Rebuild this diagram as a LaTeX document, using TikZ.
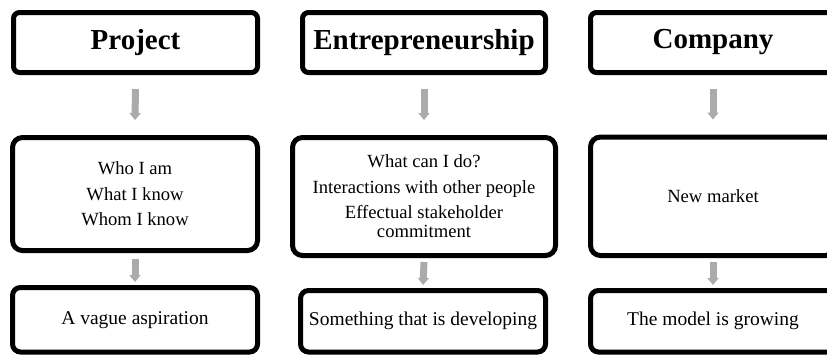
\documentclass[tikz,border=0pt]{standalone}
\usepackage{fontspec}
\setmainfont{Liberation Serif}
\usetikzlibrary{arrows.meta}
\tikzset{
  titlebox/.style={draw=black, line width=5pt, rounded corners=6pt, inner sep=0pt,
    font=\fontsize{29}{32}\selectfont\bfseries, align=center},
  midbox/.style={draw=black, line width=5pt, rounded corners=10pt, inner sep=0pt,
    font=\fontsize{18.6}{19}\selectfont, align=center},
  lowbox/.style={draw=black, line width=5pt, rounded corners=8pt, inner sep=0pt,
    font=\fontsize{19.5}{21}\selectfont, align=center},
  grayarrow/.style={draw=black!33, line width=7pt,
    -{Triangle[width=11pt,length=7pt]}}
}
\begin{document}
\begin{tikzpicture}[x=1pt,y=-1pt]
\useasboundingbox (0,0) rectangle (827,354);
\clip (0,0) rectangle (827,354);
% top row
\node[titlebox, minimum width=244pt, minimum height=60pt] (t1) at (135.5,42.5) {Project};
\node[titlebox, minimum width=243pt, minimum height=60pt] (t2) at (424,42.5) {Entrepreneurship};
\node[titlebox, minimum width=245pt, minimum height=60pt] (t3) at (713,42.5) {Company};
% middle row
\node[midbox, minimum width=245pt, minimum height=113pt] (m1) at (135,194)
  {Who I am\\[6.5pt]What I know\\[6.5pt]Whom I know};
\node[midbox, minimum width=263pt, minimum height=118pt] (m2) at (424,196.5)
  {What can I do?\\[6.5pt]Interactions with other people\\[6.5pt]Effectual stakeholder\\commitment};
\node[midbox, minimum width=245pt, minimum height=118.5pt] (m3) at (713,196.25)
  {New market};
% bottom row
\node[lowbox, minimum width=245pt, minimum height=64.5pt] (b1) at (135,319.75)
  {A vague aspiration};
\node[lowbox, minimum width=245pt, minimum height=61.5pt] (b2) at (423,321.25)
  {Something that is developing};
\node[lowbox, minimum width=245pt, minimum height=61.5pt] (b3) at (713,321.25)
  {The model is growing};
% arrows
\draw[grayarrow] ([yshift=-14pt]t1.south) -- ([yshift=15pt]m1.north);
\draw[grayarrow] ([yshift=-14pt]t2.south) -- ([yshift=15pt]m2.north);
\draw[grayarrow] ([yshift=-14pt]t3.south) -- ([yshift=15pt]m3.north);
\draw[grayarrow] ([yshift=-6pt]m1.south) -- ([yshift=3pt]b1.north);
\draw[grayarrow] ([yshift=-4pt]m2.south) -- ([yshift=3pt]b2.north);
\draw[grayarrow] ([yshift=-4pt]m3.south) -- ([yshift=3pt]b3.north);
\end{tikzpicture}
\end{document}
